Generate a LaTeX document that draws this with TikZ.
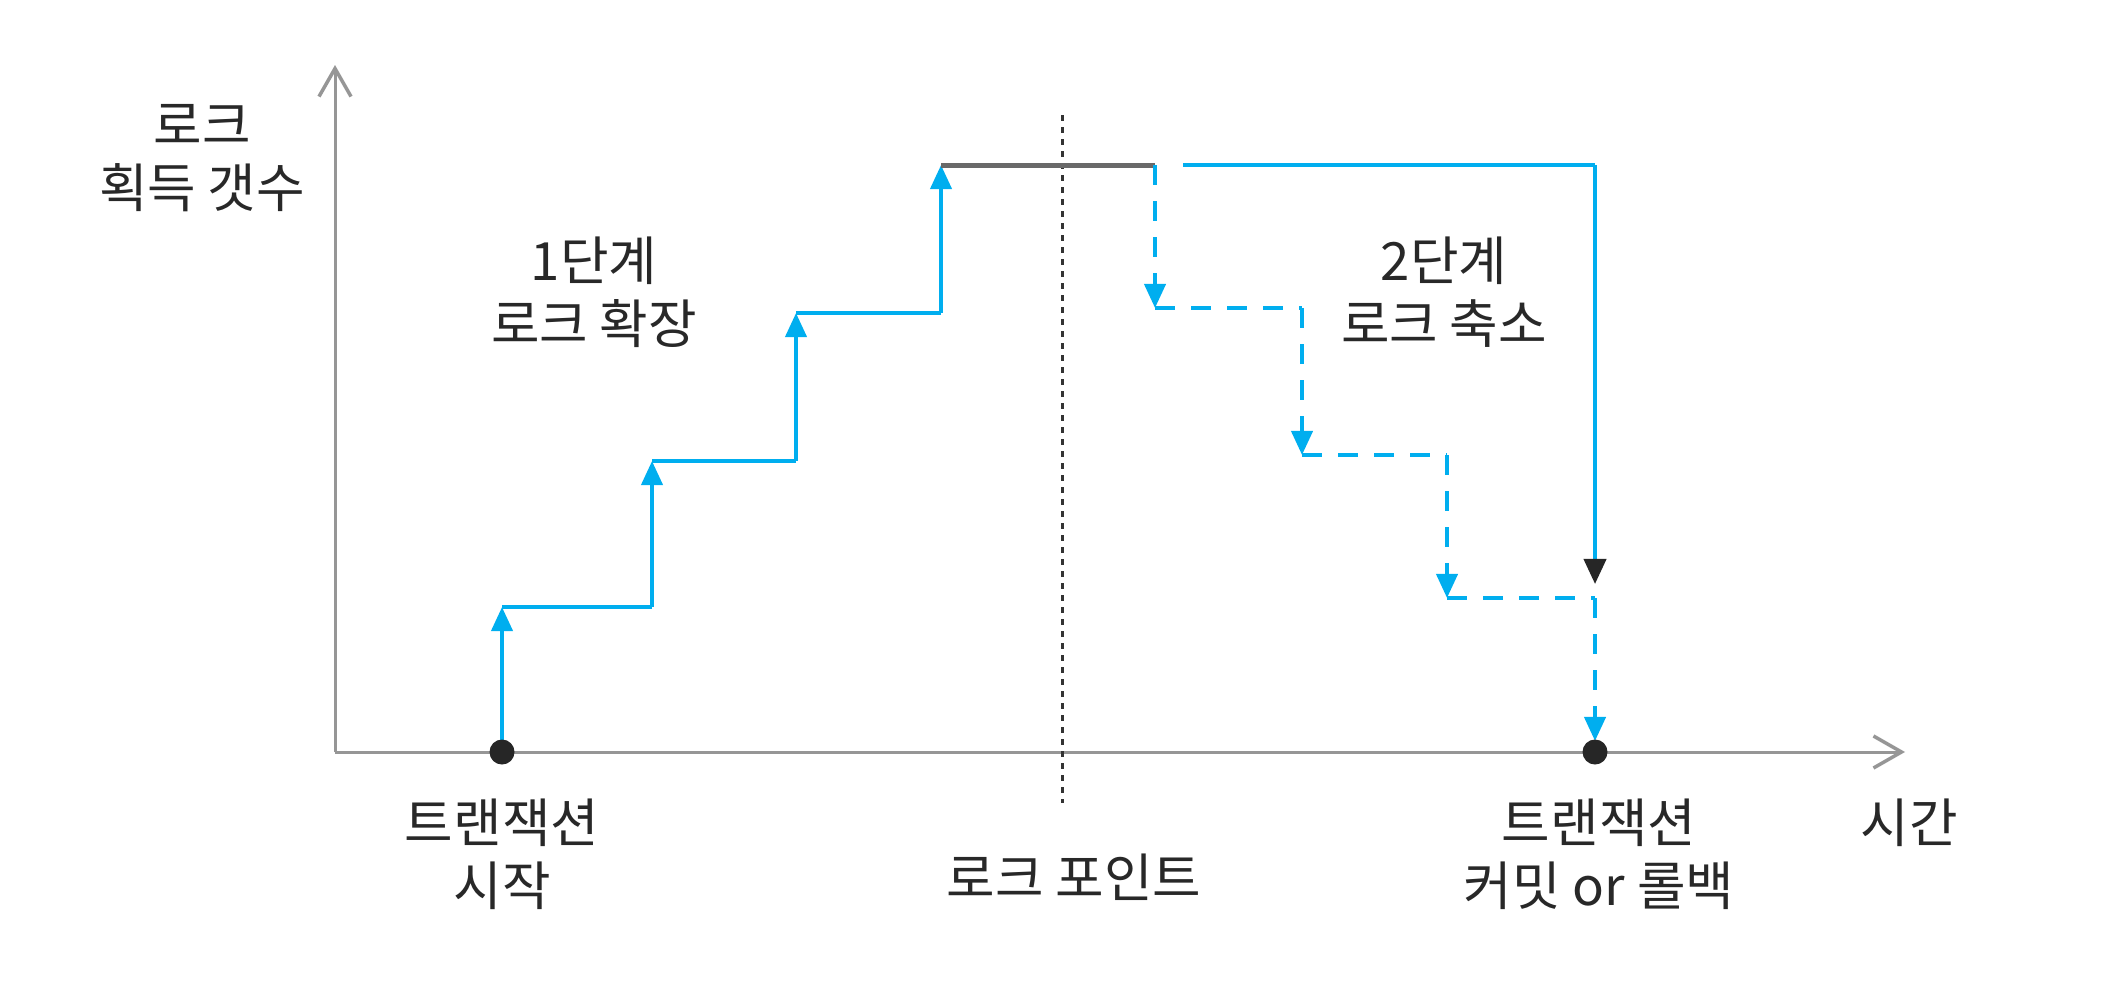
\documentclass[tikz,border=0pt]{standalone}
\usepackage{fontspec}
\setmainfont{Noto Sans CJK KR}
\usetikzlibrary{arrows.meta}
\definecolor{lblue}{RGB}{0,174,239}
\definecolor{axisgray}{RGB}{150,150,150}
\definecolor{topgray}{RGB}{105,105,105}
\definecolor{txt}{RGB}{40,40,40}
\tikzset{
  axisline/.style={draw=axisgray, line width=0.03cm, -{Straight Barb[length=0.28cm,width=0.32cm,line width=0.035cm]}},
  upstep/.style={draw=lblue, line width=0.04cm, -{Triangle[length=0.24cm,width=0.21cm]}},
  flat/.style={draw=lblue, line width=0.04cm},
  dashstep/.style={draw=lblue, line width=0.04cm, dash pattern=on 0.2cm off 0.16cm, -{Triangle[length=0.24cm,width=0.21cm]}},
  dashflat/.style={draw=lblue, line width=0.04cm, dash pattern=on 0.2cm off 0.16cm},
  lbl/.style={text=txt, align=center, font=\fontsize{15}{18}\selectfont, inner sep=0pt},
  dotmark/.style={circle, fill=black!85, minimum size=0.25cm, inner sep=0pt},
}
\begin{document}
\begin{tikzpicture}[x=0.01cm, y=-0.01cm]
\useasboundingbox (0,0) rectangle (2116,1000);
% axes
\coordinate (O) at (335,752);
\coordinate (Ytop) at (335,65);
\coordinate (Xend) at (1905,752);
\draw[axisline] (O) -- (Ytop);
\draw[axisline] (O) -- (Xend);
% lock point dotted line
\coordinate (LPtop) at (1062,115);
\coordinate (LPbot) at (1062,803);
\draw[black!80, line width=0.03cm, dash pattern=on 0.06cm off 0.06cm] (LPtop) -- (LPbot);
% growing phase corners
\coordinate (s0) at (502,752);
\coordinate (a1) at (502,607);
\coordinate (b1) at (652,607);
\coordinate (a2) at (652,461);
\coordinate (b2) at (796,461);
\coordinate (a3) at (796,313);
\coordinate (b3) at (941,313);
\coordinate (a4) at (941,165);
\coordinate (g4) at (1155,165);
\draw[upstep] (s0) -- (a1);
\draw[flat] (a1) -- (b1);
\draw[upstep] (b1) -- (a2);
\draw[flat] (a2) -- (b2);
\draw[upstep] (b2) -- (a3);
\draw[flat] (a3) -- (b3);
\draw[upstep] (b3) -- (a4);
\draw[topgray, line width=0.05cm] (a4) -- (g4);
% shrinking phase (dashed)
\coordinate (d1) at (1155,308);
\coordinate (e1) at (1302,308);
\coordinate (d2) at (1302,455);
\coordinate (e2) at (1447,455);
\coordinate (d3) at (1447,598);
\coordinate (e3) at (1595,598);
\coordinate (d4) at (1595,741);
\draw[dashstep] (g4) -- (d1);
\draw[dashflat] (d1) -- (e1);
\draw[dashstep] (e1) -- (d2);
\draw[dashflat] (d2) -- (e2);
\draw[dashstep] (e2) -- (d3);
\draw[dashflat] (d3) -- (e3);
\draw[dashstep] (e3) -- (d4);
% solid release all at once
\coordinate (r0) at (1183,165);
\coordinate (r1) at (1595,165);
\coordinate (r2) at (1595,584);
\draw[flat] (r0) -- (r1);
\draw[draw=lblue, line width=0.04cm, -{Triangle[length=0.25cm,width=0.22cm,color=black!85]}] (r1) -- (r2);
% dots
\node[dotmark] (start) at (502,752) {};
\node[dotmark] (commit) at (1595,752) {};
% labels
\node[lbl] (ylab) at (202,158) {로크\\획득 갯수};
\node[lbl] (ph1) at (594,292) {1단계\\로크 확장};
\node[lbl] (ph2) at (1444,292) {2단계\\로크 축소};
\node[lbl] (tstart) at (502,854) {트랜잭션\\시작};
\node[lbl] (lp) at (1074,877) {로크 포인트};
\node[lbl] (tend) at (1599,854) {트랜잭션\\커밋 or 롤백};
\node[lbl] (time) at (1909,823) {시간};
\end{tikzpicture}
\end{document}
